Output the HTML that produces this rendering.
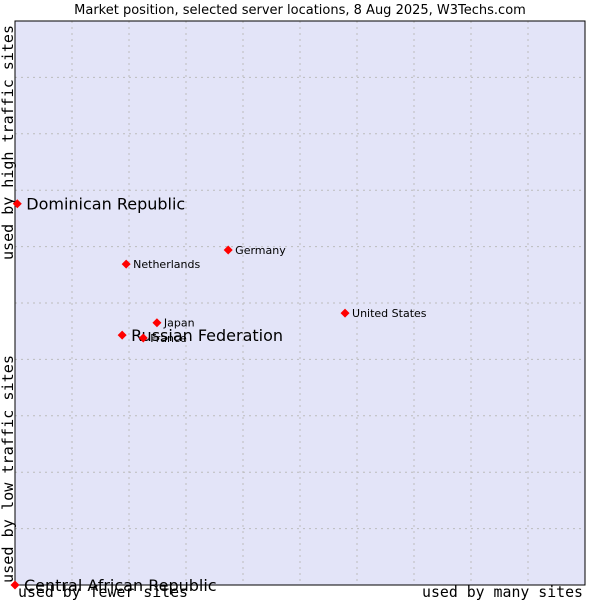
<!DOCTYPE html>
<html><head><meta charset="utf-8"><style>
html,body{margin:0;padding:0;background:#fff;width:600px;height:600px;overflow:hidden}
text{font-family:"DejaVu Sans","Liberation Sans",sans-serif}
.mono{font-family:"DejaVu Sans Mono","Liberation Mono",monospace}
</style></head><body>
<svg id="chart" width="600" height="600">
<text x="300" y="14" text-anchor="middle" font-size="13" fill="#000">Market position, selected server locations, 8 Aug 2025, W3Techs.com</text>
<rect x="15" y="21" width="570" height="564" fill="#e3e4f8"/>
<g id="grid"></g>
<rect x="15" y="21" width="570" height="564" fill="none" stroke="#000" stroke-width="1"/>
<text class="mono" x="18" y="597" font-size="15" textLength="170" lengthAdjust="spacingAndGlyphs">used by fewer sites</text>
<text class="mono" x="422" y="597" font-size="15" textLength="161" lengthAdjust="spacingAndGlyphs">used by many sites</text>
<text class="mono" transform="translate(13,583) rotate(-90)" font-size="15" textLength="228" lengthAdjust="spacingAndGlyphs">used by low traffic sites</text>
<text class="mono" transform="translate(13,260) rotate(-90)" font-size="15" textLength="235" lengthAdjust="spacingAndGlyphs">used by high traffic sites</text>
<g id="points"></g>
</svg>
<script>
const names=["Dominican Republic","Germany","Netherlands","United States","Japan","Russian Federation","France","Central African Republic"];
const xVals=[0.04,3.74,1.95,5.79,2.49,1.88,2.25,0.0];
const yVals=[6.76,5.94,5.69,4.82,4.65,4.43,4.38,0.0];
const big=[true,false,false,false,false,true,false,true];
const NS="http://www.w3.org/2000/svg";
const L=15,R=585,T=21,B=585;
function sx(v){return L+v/10*(R-L);}
function sy(v){return B-v/10*(B-T);}
const grid=document.getElementById('grid');
for(let i=1;i<10;i++){
  const lx=document.createElementNS(NS,'line');
  lx.setAttribute('x1',sx(i));lx.setAttribute('x2',sx(i));lx.setAttribute('y1',T);lx.setAttribute('y2',B);
  lx.setAttribute('stroke','#bcbcbc');lx.setAttribute('stroke-dasharray','2,4');
  
  
  grid.appendChild(lx);
  const ly=document.createElementNS(NS,'line');
  ly.setAttribute('y1',sy(i));ly.setAttribute('y2',sy(i));ly.setAttribute('x1',L);ly.setAttribute('x2',R);
  ly.setAttribute('stroke','#bcbcbc');ly.setAttribute('stroke-dasharray','2,4');
  
  
  grid.appendChild(ly);
}
const pts=document.getElementById('points');
names.forEach((n,i)=>{
  const x=sx(xVals[i]),y=sy(yVals[i]);
  const d=document.createElementNS(NS,'path');
  d.setAttribute('d',`M${x} ${y-4.5}L${x+4.5} ${y}L${x} ${y+4.5}L${x-4.5} ${y}Z`);
  d.setAttribute('fill','#ff0000');
  
  
  pts.appendChild(d);
  const t=document.createElementNS(NS,'text');
  t.setAttribute('x',x+(big[i]?9:7));
  t.setAttribute('y',y+(big[i]?6:4));
  t.setAttribute('font-size',big[i]?'16':'11');
  t.setAttribute('fill','#000');
  t.textContent=n;
  
  
  pts.appendChild(t);
});
</script>
</body></html>
